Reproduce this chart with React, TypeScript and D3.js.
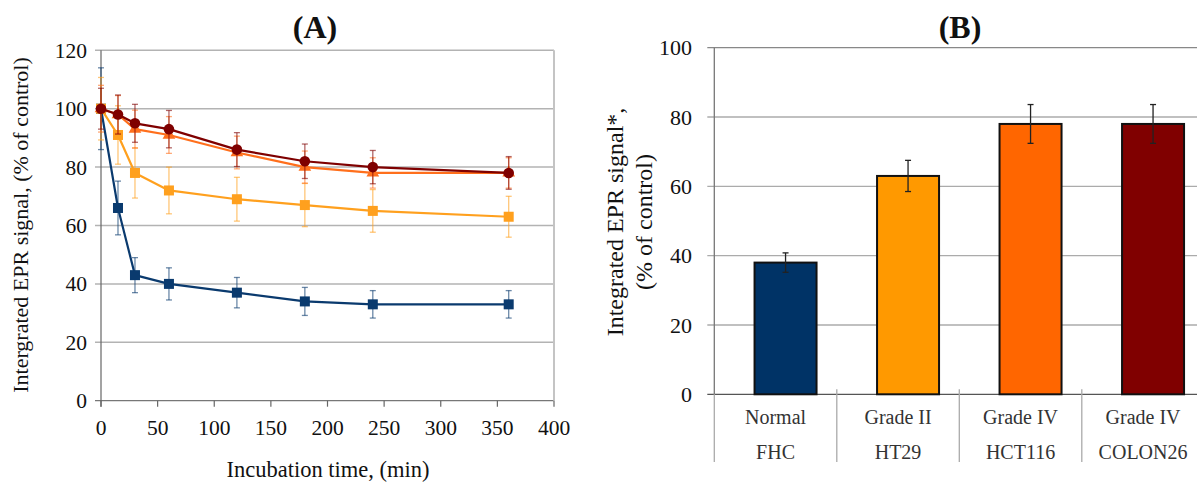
import { line, scaleBand, scaleLinear, symbol, symbolTriangle } from "d3";

const times = [0, 15, 30, 60, 120, 180, 240, 360];
const fhcValues = [100, 66, 43, 40, 37, 34, 33, 33];
const fhcErrors = [14, 9.2, 6, 5.5, 5.2, 4.8, 4.7, 4.7];
const ht29Values = [100, 91, 78, 72, 69, 67, 65, 63];
const ht29Errors = [10.7, 10, 8.6, 8, 7.5, 7.4, 7.3, 7];
const hct116Values = [100, 98, 93, 91, 85, 80, 78, 78];
const hct116Errors = [8, 6.5, 6.5, 6.3, 5.6, 5.5, 5.2, 5.2];
const colon26Values = [100, 98, 95, 93, 86, 82, 80, 78];
const colon26Errors = [7, 6.7, 6.5, 6.4, 5.8, 5.9, 5.7, 5.6];

const timeTicks = [0, 50, 100, 150, 200, 250, 300, 350, 400];
const signalTicks = [0, 20, 40, 60, 80, 100, 120];

const gradeLabels = ["Normal", "Grade II", "Grade IV", "Grade IV"];
const cellLines = ["FHC", "HT29", "HCT116", "COLON26"];
const barValues = [38, 63, 78, 78];
const barErrors = [2.8, 4.5, 5.6, 5.6];
const barTicks = [0, 20, 40, 60, 80, 100];

const series = [
  { name: "FHC", values: fhcValues, errors: fhcErrors, color: "#0a3a6e", marker: "square" },
  { name: "HT29", values: ht29Values, errors: ht29Errors, color: "#ffa01e", marker: "square" },
  { name: "HCT116", values: hct116Values, errors: hct116Errors, color: "#ff6f1c", marker: "triangle" },
  { name: "COLON26", values: colon26Values, errors: colon26Errors, color: "#7f0000", marker: "circle" },
];
const barColors = ["#003366", "#ff9900", "#ff6600", "#800000"];

const font = "'Liberation Serif', 'Times New Roman', serif";

function LineChart() {
  const x = scaleLinear().domain([0, 400]).range([101, 554]);
  const y = scaleLinear().domain([0, 120]).range([400.7, 50.3]);
  const tri = symbol().type(symbolTriangle).size(70)() ?? "";

  return (
    <g>
      {signalTicks.map((t) => (
        <g key={t}>
          <line
            x1={x(0) - 6}
            x2={x(400)}
            y1={y(t)}
            y2={y(t)}
            stroke={t === 0 ? "#777" : "#b3b3b3"}
            strokeWidth={t === 0 ? 1.2 : 1.5}
          />
          <text x={x(0) - 14} y={y(t)} dy="0.35em" textAnchor="end" fontSize={21.5}>
            {t}
          </text>
        </g>
      ))}
      <line x1={x(400)} x2={x(400)} y1={y(120)} y2={y(0)} stroke="#c4c4c4" strokeWidth={2} />
      <line x1={x(0)} x2={x(0)} y1={y(120)} y2={y(0) + 6} stroke="#666" strokeWidth={1.2} />
      {timeTicks.map((t) => (
        <g key={t}>
          <line x1={x(t)} x2={x(t)} y1={y(0)} y2={y(0) + 6} stroke="#666" strokeWidth={1.2} />
          <text x={x(t)} y={427} dy="0.35em" textAnchor="middle" fontSize={21.5}>
            {t}
          </text>
        </g>
      ))}

      {series.map((s) => {
        const path =
          line<number>()
            .x((_, i) => x(times[i]))
            .y((v) => y(v))(s.values) ?? "";
        return (
          <g key={s.name}>
            {s.values.map((v, i) => (
              <g key={i} stroke={s.color} strokeOpacity={0.6} strokeWidth={1.3}>
                <line x1={x(times[i])} x2={x(times[i])} y1={y(v + s.errors[i])} y2={y(v - s.errors[i])} />
                <line x1={x(times[i]) - 3} x2={x(times[i]) + 3} y1={y(v + s.errors[i])} y2={y(v + s.errors[i])} />
                <line x1={x(times[i]) - 3} x2={x(times[i]) + 3} y1={y(v - s.errors[i])} y2={y(v - s.errors[i])} />
              </g>
            ))}
            <path d={path} fill="none" stroke={s.color} strokeWidth={2.2} strokeLinejoin="round" />
            {s.values.map((v, i) =>
              s.marker === "square" ? (
                <rect key={i} x={x(times[i]) - 5} y={y(v) - 5} width={10} height={10} fill={s.color} />
              ) : s.marker === "circle" ? (
                <circle key={i} cx={x(times[i])} cy={y(v)} r={5.3} fill={s.color} />
              ) : (
                <path key={i} d={tri} transform={`translate(${x(times[i])},${y(v)})`} fill={s.color} />
              )
            )}
          </g>
        );
      })}

      <text x={315} y={38} textAnchor="middle" fontSize={32} fontWeight="bold">
        (A)
      </text>
      <text x={328} y={477} textAnchor="middle" fontSize={22.5}>
        Incubation time, (min)
      </text>
      <text transform="translate(28,225) rotate(-90)" textAnchor="middle" fontSize={22}>
        Intergrated EPR signal, (% of control)
      </text>
    </g>
  );
}

function BarChart() {
  const y = scaleLinear().domain([0, 100]).range([394.3, 47.7]);
  const band = scaleBand<number>()
    .domain(cellLines.map((_, i) => i))
    .range([714.3, 1204.3]);
  const barWidth = 62;
  const barShift = 10;

  return (
    <g>
      {barTicks.map((t) => (
        <g key={t}>
          <line
            x1={band.range()[0] - 7}
            x2={1197}
            y1={y(t)}
            y2={y(t)}
            stroke={t === 0 ? "#555" : t === 100 ? "#888" : "#ababab"}
            strokeWidth={1.3}
          />
          <text x={692} y={y(t)} dy="0.35em" textAnchor="end" fontSize={22}>
            {t}
          </text>
        </g>
      ))}
      <line x1={band.range()[0]} x2={band.range()[0]} y1={y(100)} y2={y(0)} stroke="#777" strokeWidth={1.3} />
      <line x1={band.range()[0]} x2={band.range()[0]} y1={y(0)} y2={462} stroke="#aaa" strokeWidth={1.3} />
      {cellLines.map((_, i) =>
        i === 0 ? null : (
          <line
            key={i}
            x1={band(i) ?? 0}
            x2={band(i) ?? 0}
            y1={y(0) - 5}
            y2={462}
            stroke="#aaa"
            strokeWidth={1.3}
          />
        )
      )}
      {barValues.map((v, i) => {
        const cx = (band(i) ?? 0) + band.bandwidth() / 2 + barShift;
        return (
          <g key={i}>
            <rect
              x={cx - barWidth / 2}
              y={y(v)}
              width={barWidth}
              height={y(0) - y(v)}
              fill={barColors[i]}
              stroke="#111"
              strokeWidth={2}
            />
            <g stroke="#222" strokeWidth={1.3}>
              <line x1={cx} x2={cx} y1={y(v + barErrors[i])} y2={y(v - barErrors[i])} />
              <line x1={cx - 3} x2={cx + 3} y1={y(v + barErrors[i])} y2={y(v + barErrors[i])} />
              <line x1={cx - 3} x2={cx + 3} y1={y(v - barErrors[i])} y2={y(v - barErrors[i])} />
            </g>
          </g>
        );
      })}
      {cellLines.map((c, i) => {
        const cx = (band(i) ?? 0) + band.bandwidth() / 2;
        return (
          <g key={c} fill="#333" fontSize={20} textAnchor="middle">
            <text x={cx} y={417} dy="0.35em">
              {gradeLabels[i]}
            </text>
            <text x={cx} y={452} dy="0.35em">
              {c}
            </text>
          </g>
        );
      })}

      <text x={960} y={38} textAnchor="middle" fontSize={32} fontWeight="bold">
        (B)
      </text>
      <text transform="translate(623,222) rotate(-90)" textAnchor="middle" fontSize={24}>
        Integrated EPR signal*,
      </text>
      <text transform="translate(652,222) rotate(-90)" textAnchor="middle" fontSize={24}>
        (% of control)
      </text>
    </g>
  );
}

export default function App() {
  return (
    <svg
      width={1197}
      height={482}
      viewBox="0 0 1197 482"
      style={{ position: "absolute", left: 0, top: 0, background: "#fff" }}
      fontFamily={font}
      fill="#111"
    >
      <LineChart />
      <BarChart />
    </svg>
  );
}
